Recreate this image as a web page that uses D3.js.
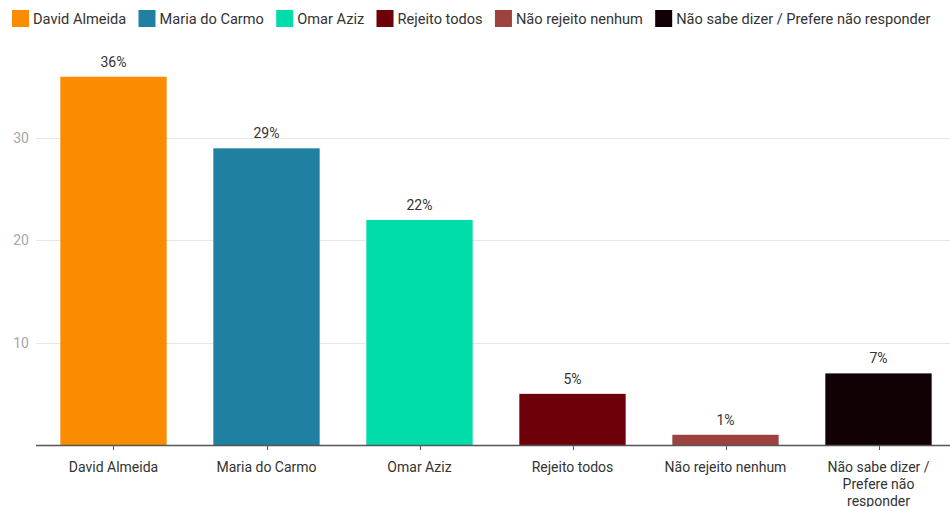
<!DOCTYPE html>
<html>
<head>
<meta charset="utf-8">
<script src="https://cdn.jsdelivr.net/npm/d3@7"></script>
<style>
  body { margin: 0; background: #fff; }
  svg { font-family: Roboto, "Noto Sans", sans-serif; }
</style>
</head>
<body>
<div id="chart"></div>
<script>
// data
var categories = ["David Almeida", "Maria do Carmo", "Omar Aziz", "Rejeito todos", "Não rejeito nenhum", "Não sabe dizer / Prefere não responder"];
var values = [36, 29, 22, 5, 1, 7];
var colors = ["#fb8b00", "#1f80a1", "#00dcaa", "#6d0008", "#9c4340", "#110105"];
var yTicks = [10, 20, 30];
// x labels, wrapped like the original
var xLabels = [["David Almeida"], ["Maria do Carmo"], ["Omar Aziz"], ["Rejeito todos"], ["Não rejeito nenhum"], ["Não sabe dizer /", "Prefere não", "responder"]];

var width = 950, height = 507;

var svg = d3.select("#chart").append("svg")
  .attr("width", width)
  .attr("height", height);

var x = d3.scaleBand()
  .domain(categories)
  .range([37, 955])
  .paddingInner(0.305)
  .paddingOuter(0.1525);

var y = d3.scaleLinear()
  .domain([0, 10])
  .range([445, 342.7]);

// gridlines
svg.append("g")
  .selectAll("line")
  .data(yTicks)
  .enter()
  .append("line")
  .attr("x1", 36)
  .attr("x2", width)
  .attr("y1", function (d) { return Math.round(y(d)) + 0.5; })
  .attr("y2", function (d) { return Math.round(y(d)) + 0.5; })
  .style("stroke", "#e6e6e6")
  .style("stroke-width", 1);

// y labels
svg.append("g")
  .selectAll("text")
  .data(yTicks)
  .enter()
  .append("text")
  .attr("x", 29)
  .attr("y", function (d) { return y(d); })
  .attr("dy", "0.35em")
  .attr("text-anchor", "end")
  .style("font-size", "14px")
  .style("fill", "#a6a6a6")
  .text(function (d) { return d; });

// bars
svg.append("g")
  .selectAll("rect")
  .data(values)
  .enter()
  .append("rect")
  .attr("x", function (d, i) { return x(categories[i]); })
  .attr("y", function (d) { return y(d); })
  .attr("width", x.bandwidth())
  .attr("height", function (d) { return y(0) - y(d); })
  .style("fill", function (d, i) { return colors[i]; });

// value labels
svg.append("g")
  .selectAll("text")
  .data(values)
  .enter()
  .append("text")
  .attr("x", function (d, i) { return x(categories[i]) + x.bandwidth() / 2; })
  .attr("y", function (d) { return y(d) - 10; })
  .attr("text-anchor", "middle")
  .style("font-size", "14px")
  .style("fill", "#333")
  .text(function (d) { return d + "%"; });

// x axis
var xAxis = svg.append("g")
  .attr("transform", "translate(0,445)");
xAxis.append("line")
  .attr("x1", 36)
  .attr("x2", width)
  .attr("y1", 0.5)
  .attr("y2", 0.5)
  .style("stroke", "#555")
  .style("stroke-width", 1.5);
xAxis.selectAll(".tick")
  .data(categories)
  .enter()
  .append("line")
  .attr("class", "tick")
  .attr("x1", function (d) { return Math.round(x(d) + x.bandwidth() / 2) + 0.5; })
  .attr("x2", function (d) { return Math.round(x(d) + x.bandwidth() / 2) + 0.5; })
  .attr("y1", 0)
  .attr("y2", 5)
  .style("stroke", "#555");

var lab = xAxis.selectAll(".lab")
  .data(categories)
  .enter()
  .append("text")
  .attr("class", "lab")
  .attr("x", function (d) { return x(d) + x.bandwidth() / 2; })
  .attr("y", 27)
  .attr("text-anchor", "middle")
  .style("font-size", "14px")
  .style("fill", "#333");
lab.each(function (d, i) {
  var t = d3.select(this);
  xLabels[i].forEach(function (line, j) {
    t.append("tspan")
      .attr("x", x(d) + x.bandwidth() / 2)
      .attr("dy", j == 0 ? 0 : 17)
      .text(line);
  });
});

// legend
var legend = svg.append("g").attr("transform", "translate(12,10)");
var lx = 0;
categories.forEach(function (c, i) {
  var g = legend.append("g").attr("transform", "translate(" + lx + ",0)");
  g.append("rect")
    .attr("width", 17)
    .attr("height", 17)
    .style("fill", colors[i]);
  var t = g.append("text")
    .attr("x", 21)
    .attr("y", 8.5)
    .attr("dy", "0.35em")
    .style("font-size", "14.6px")
    .style("fill", "#333")
    .text(c);
  lx += 21 + t.node().getComputedTextLength() + 12.3;
});
</script>
</body>
</html>
